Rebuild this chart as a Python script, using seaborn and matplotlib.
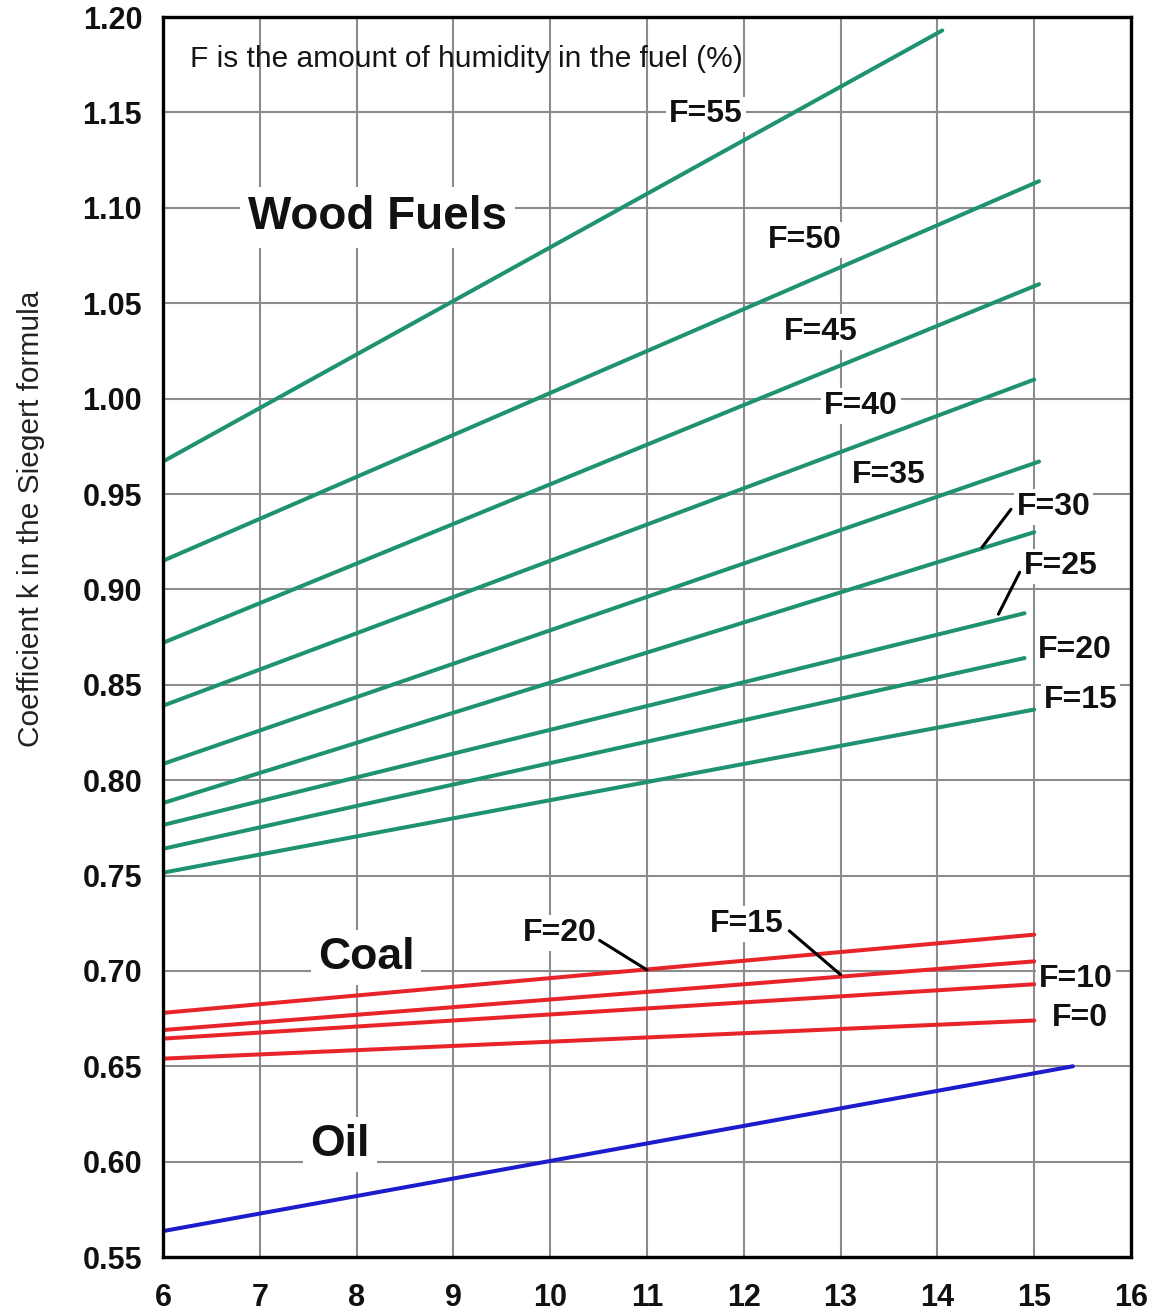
import numpy as np
import pandas as pd
import seaborn as sns
import matplotlib.pyplot as plt

# ---- data: straight lines given by start / end points ----
wood_F = [55, 50, 45, 40, 35, 30, 25, 20, 15]
wood_x0 = [6, 6, 6, 6, 6, 6, 6, 6, 6]
wood_x1 = [14.05, 15.05, 15.05, 15.0, 15.05, 15.0, 14.9, 14.9, 15.0]
wood_y0 = [0.967, 0.915, 0.872, 0.839, 0.8085, 0.788, 0.7765, 0.764, 0.7515]
wood_y1 = [1.193, 1.114, 1.060, 1.010, 0.967, 0.930, 0.8875, 0.864, 0.837]

coal_F = [20, 15, 10, 0]
coal_x0 = [6, 6, 6, 6]
coal_x1 = [15.0, 15.0, 15.0, 15.0]
coal_y0 = [0.678, 0.669, 0.6645, 0.654]
coal_y1 = [0.719, 0.705, 0.693, 0.674]

oil_x = [6, 15.4]
oil_y = [0.5636, 0.650]

x_ticks = list(range(6, 17))
y_ticks = [0.55, 0.60, 0.65, 0.70, 0.75, 0.80, 0.85, 0.90, 0.95, 1.00, 1.05, 1.10, 1.15, 1.20]

GREEN = "#1f9272"
RED = "#e8242b"
BLUE = "#1c1ccc"

sns.set_theme(style="whitegrid")
plt.rcParams["font.family"] = ["Liberation Sans", "DejaVu Sans"]

fig = plt.figure(figsize=(11.56, 13.16), dpi=100)
ax = fig.add_axes([0.141, 0.0448, 0.8374, 0.9422])

rows = []
for i, f in enumerate(wood_F):
    rows.append(dict(group=f"wood{f}", kind="wood", x=wood_x0[i], y=wood_y0[i]))
    rows.append(dict(group=f"wood{f}", kind="wood", x=wood_x1[i], y=wood_y1[i]))
for i, f in enumerate(coal_F):
    rows.append(dict(group=f"coal{f}", kind="coal", x=coal_x0[i], y=coal_y0[i]))
    rows.append(dict(group=f"coal{f}", kind="coal", x=coal_x1[i], y=coal_y1[i]))
for xv, yv in zip(oil_x, oil_y):
    rows.append(dict(group="oil", kind="oil", x=xv, y=yv))
df = pd.DataFrame(rows)

colors = {"wood": GREEN, "coal": RED, "oil": BLUE}
for g, sub in df.groupby("group", sort=False):
    sns.lineplot(data=sub, x="x", y="y", ax=ax, color=colors[sub["kind"].iloc[0]],
                 linewidth=2.9, estimator=None, sort=False, legend=False, zorder=3)

ax.set_xlim(6, 16)
ax.set_ylim(0.55, 1.20)
ax.set_xticks(x_ticks)
ax.set_yticks(y_ticks)
ax.set_xticklabels([str(t) for t in x_ticks])
ax.set_yticklabels([f"{t:.2f}" for t in y_ticks])
ax.tick_params(axis="both", length=0, labelsize=22, colors="#111111")
ax.tick_params(axis="x", pad=19)
ax.tick_params(axis="y", pad=15)
for lab in ax.get_xticklabels() + ax.get_yticklabels():
    lab.set_fontweight("bold")

ax.grid(True, color="#8c8c8c", linewidth=1.5)
ax.set_facecolor("white")
for s in ax.spines.values():
    s.set_visible(True)
    s.set_color("black")
    s.set_linewidth(2.4)
    s.set_zorder(5)

ax.set_xlabel("")
ax.set_ylabel("Coefficient k in the Siegert formula", fontsize=21.5, color="#222222")
ax.yaxis.set_label_coords(-0.122, 0.595)

white = dict(facecolor="white", edgecolor="none", pad=2)

ax.text(6.28, 1.178, "F is the amount of humidity in the fuel (%)", fontsize=21.5,
        ha="left", va="center", color="#151515")

ax.text(6.88, 1.095, "Wood Fuels", fontsize=33, fontweight="bold", ha="left",
        va="center", color="#111111", bbox=dict(facecolor="white", edgecolor="none", pad=6), zorder=4)
ax.text(7.6, 0.707, "Coal", fontsize=32, fontweight="bold", ha="left",
        va="center", color="#111111", bbox=dict(facecolor="white", edgecolor="none", pad=5), zorder=4)
ax.text(7.52, 0.609, "Oil", fontsize=32, fontweight="bold", ha="left",
        va="center", color="#111111", bbox=dict(facecolor="white", edgecolor="none", pad=5), zorder=4)

# labels for the wood fuel curves
wood_labels = [
    ("F=55", 11.61, 1.149),
    ("F=50", 12.63, 1.083),
    ("F=45", 12.79, 1.035),
    ("F=40", 13.21, 0.996),
    ("F=35", 13.50, 0.960),
    ("F=30", 15.20, 0.943),
    ("F=25", 15.27, 0.912),
    ("F=20", 15.42, 0.868),
    ("F=15", 15.48, 0.842),
]
for txt, xv, yv in wood_labels:
    ax.text(xv, yv, txt, fontsize=23, fontweight="bold", ha="center", va="center",
            color="#111111", bbox=white, zorder=4)

# labels for the coal curves
coal_labels = [
    ("F=20", 10.10, 0.720),
    ("F=15", 12.03, 0.7245),
    ("F=10", 15.43, 0.696),
    ("F=0", 15.47, 0.6755),
]
for txt, xv, yv in coal_labels:
    ax.text(xv, yv, txt, fontsize=23, fontweight="bold", ha="center", va="center",
            color="#111111", bbox=white, zorder=4)

# leader lines from labels to their curves
leaders = [
    ((14.46, 0.922), (14.76, 0.942)),
    ((14.63, 0.887), (14.85, 0.909)),
    ((10.51, 0.716), (11.00, 0.7005)),
    ((12.47, 0.721), (13.00, 0.698)),
]
for (xa, ya), (xb, yb) in leaders:
    ax.plot([xa, xb], [ya, yb], color="black", linewidth=2.2, zorder=4)

fig.savefig("out.png", dpi=100, facecolor="white")
